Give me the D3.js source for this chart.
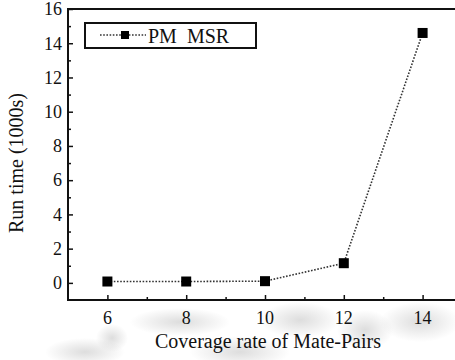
<!DOCTYPE html>
<html>
<head>
<meta charset="utf-8">
<script src="https://cdn.jsdelivr.net/npm/d3@7"></script>
</head>
<body style="margin:0">
<script>
var w = 455;
var h = 360;

// data
var coverage = [6, 8, 10, 12, 14];
var runTime = [0.08, 0.08, 0.1, 1.15, 14.6];
var xTicks = [6, 8, 10, 12, 14];
var xMinor = [7, 9, 11, 13];
var yTicks = [0, 2, 4, 6, 8, 10, 12, 14, 16];
var yMinor = [1, 3, 5, 7, 9, 11, 13, 15];
var seriesName = "PM  MSR";

var serif = "Liberation Serif";

var x = d3.scaleLinear().domain([5, 15]).range([68, 462]);
var y = d3.scaleLinear().domain([-1, 16]).range([300, 9]);

var svg = d3.select("body").append("svg")
    .attr("width", w)
    .attr("height", h)
    .attr("font-family", serif);

// faint watermark swirls under the axis, soft radial blobs
var defs = svg.append("defs");
var grad = defs.append("radialGradient").attr("id", "blob");
grad.append("stop").attr("offset", "0%").attr("stop-color", "#bbb").attr("stop-opacity", 0.5);
grad.append("stop").attr("offset", "100%").attr("stop-color", "#bbb").attr("stop-opacity", 0);
var blobs = [[112, 338, 16, 14], [85, 352, 40, 14], [240, 352, 50, 16],
             [300, 320, 40, 18], [365, 330, 28, 20], [420, 322, 40, 20], [180, 322, 50, 14]];
svg.append("g")
   .selectAll("ellipse").data(blobs).enter()
   .append("ellipse")
   .attr("cx", function(d) { return d[0]; })
   .attr("cy", function(d) { return d[1]; })
   .attr("rx", function(d) { return d[2]; })
   .attr("ry", function(d) { return d[3]; })
   .attr("fill", "url(#blob)");

// frame: top, left, bottom (right side is cut off)
svg.append("path")
   .attr("d", "M" + w + "," + y(16) + "H" + x(5) + "V" + y(-1) + "H" + w)
   .attr("fill", "none")
   .attr("stroke", "#111")
   .attr("stroke-width", 2);

// y axis ticks point inward
var yAxis = d3.axisRight(y).tickValues(yTicks).tickSize(5).tickFormat("");
var gy = svg.append("g").attr("transform", "translate(" + x(5) + ",0)").call(yAxis);
gy.select(".domain").remove();
gy.selectAll(".tick line").attr("stroke", "#111").attr("stroke-width", 1.5);
var yAxisMinor = d3.axisRight(y).tickValues(yMinor).tickSize(3).tickFormat("");
var gym = svg.append("g").attr("transform", "translate(" + x(5) + ",0)").call(yAxisMinor);
gym.select(".domain").remove();
gym.selectAll(".tick line").attr("stroke", "#111").attr("stroke-width", 1.5);

var labels = svg.append("g").attr("font-family", serif).attr("fill", "#111");

labels.selectAll("text.ylab").data(yTicks).enter()
   .append("text")
   .attr("class", "ylab")
   .attr("x", 62)
   .attr("y", function(d) { return y(d); })
   .attr("dy", "0.35em")
   .attr("text-anchor", "end")
   .attr("font-family", serif)
   .attr("font-size", 18)
   .text(function(d) { return d; });

// x axis ticks point up
var xAxis = d3.axisTop(x).tickValues(xTicks).tickSize(5).tickFormat("");
var gx = svg.append("g").attr("transform", "translate(0," + y(-1) + ")").call(xAxis);
gx.select(".domain").remove();
gx.selectAll(".tick line").attr("stroke", "#111").attr("stroke-width", 1.5);
var xAxisMinor = d3.axisTop(x).tickValues(xMinor).tickSize(3).tickFormat("");
var gxm = svg.append("g").attr("transform", "translate(0," + y(-1) + ")").call(xAxisMinor);
gxm.select(".domain").remove();
gxm.selectAll(".tick line").attr("stroke", "#111").attr("stroke-width", 1.5);

labels.selectAll("text.xlab").data(xTicks).enter()
   .append("text")
   .attr("class", "xlab")
   .attr("x", function(d) { return x(d); })
   .attr("y", 318)
   .attr("dy", "0.35em")
   .attr("text-anchor", "middle")
   .attr("font-family", serif)
   .attr("font-size", 18)
   .text(function(d) { return d; });

// axis titles
labels.append("text")
   .attr("x", 268)
   .attr("y", 341)
   .attr("dy", "0.35em")
   .attr("text-anchor", "middle")
   .attr("font-family", serif)
   .attr("font-size", 20)
   .text("Coverage rate of Mate-Pairs");

labels.append("text")
   .attr("transform", "translate(16," + 163 + ") rotate(-90)")
   .attr("dy", "0.35em")
   .attr("text-anchor", "middle")
   .attr("font-family", serif)
   .attr("font-size", 20)
   .text("Run time (1000s)");

// the series
var pts = coverage.map(function(c, i) { return [c, runTime[i]]; });
var line = d3.line()
    .x(function(d) { return x(d[0]); })
    .y(function(d) { return y(d[1]); });

svg.append("path")
   .datum(pts)
   .attr("d", line)
   .attr("fill", "none")
   .attr("stroke", "#333")
   .attr("stroke-width", 1.6)
   .attr("stroke-dasharray", "1.6,1.6");

svg.selectAll("rect.marker").data(pts).enter()
   .append("rect")
   .attr("class", "marker")
   .attr("x", function(d) { return x(d[0]) - 5; })
   .attr("y", function(d) { return y(d[1]) - 5; })
   .attr("width", 10)
   .attr("height", 10)
   .attr("fill", "#000");

// legend
var lg = svg.append("g");
lg.append("rect")
  .attr("x", 85).attr("y", 23)
  .attr("width", 171).attr("height", 25)
  .attr("fill", "#fff")
  .attr("stroke", "#111")
  .attr("stroke-width", 2);
lg.append("line")
  .attr("x1", 100).attr("x2", 146)
  .attr("y1", 35).attr("y2", 35)
  .attr("stroke", "#333")
  .attr("stroke-width", 1.6)
  .attr("stroke-dasharray", "1.6,1.6");
lg.append("rect")
  .attr("x", 121).attr("y", 31)
  .attr("width", 8).attr("height", 8)
  .attr("fill", "#000");
lg.append("text")
  .attr("x", 148).attr("y", 36)
  .attr("dy", "0.35em")
  .attr("font-family", serif)
  .attr("font-size", 20)
  .attr("xml:space", "preserve")
  .attr("fill", "#111")
  .text(seriesName);
</script>
</body>
</html>
